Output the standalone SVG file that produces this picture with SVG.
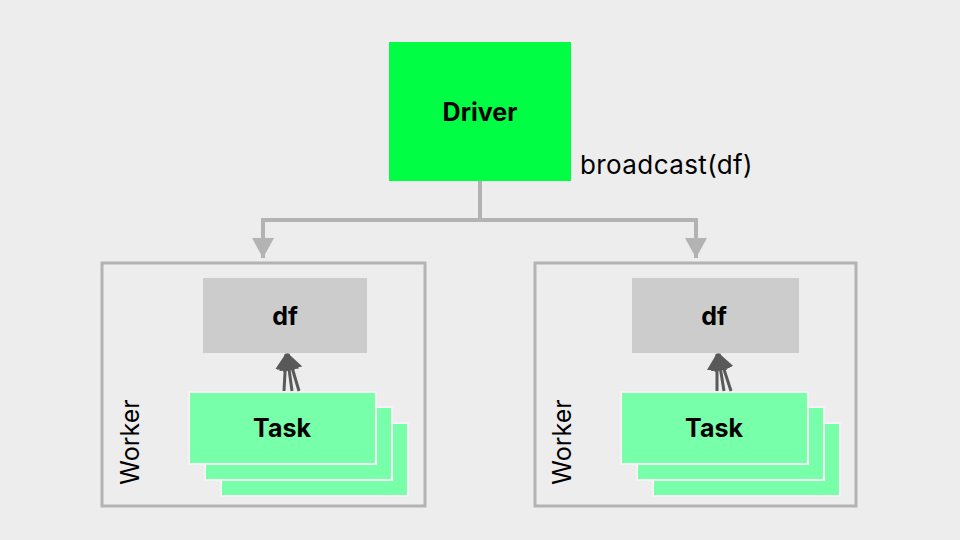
<svg xmlns="http://www.w3.org/2000/svg" width="960" height="540" viewBox="0 0 960 540">
<defs>
<style>
.bg{fill:#ededed}
.driver{fill:#00ff44}
.worker{fill:none;stroke:#b3b3b3;stroke-width:3}
.df{fill:#cccccc}
.task{fill:#77ffaa;stroke:#f4f4f4;stroke-width:2}
.lbl{font-family:Inter,"Liberation Sans",sans-serif;font-size:25px;fill:#000}
.b{font-weight:bold}
.conn{fill:none;stroke:#b3b3b3;stroke-width:4}
.use{fill:none;stroke:#595959;stroke-width:3}
</style>
<marker id="ah2" markerWidth="17" markerHeight="20" refX="16" refY="10" orient="auto" markerUnits="userSpaceOnUse" viewBox="0 0 17 20">
<path d="M0,0 L17,10 L0,20 Z" fill="#595959"/>
</marker>
<marker id="ahg" markerWidth="20" markerHeight="22" refX="20" refY="11" orient="auto" markerUnits="userSpaceOnUse" viewBox="0 0 20 22">
<path d="M0,0 L20,11 L0,22 Z" fill="#b3b3b3"/>
</marker>
</defs>
<rect class="bg" x="0" y="0" width="960" height="540"/>

<g id="driver">
<rect class="driver" x="389" y="42" width="182" height="139"/>
<text class="lbl b" x="480" y="121" text-anchor="middle">Driver</text>
</g>
<text id="broadcast-label" class="lbl" x="580" y="174" style="font-size:26px;letter-spacing:0.4px">broadcast(df)</text>

<g id="worker1">
<rect class="worker" x="102" y="263" width="323" height="243"/>
<text class="lbl" transform="translate(139,442) rotate(-90)" text-anchor="middle">Worker</text>
</g>
<g id="worker2">
<rect class="worker" x="535" y="263" width="321" height="243"/>
<text class="lbl" transform="translate(571,442) rotate(-90)" text-anchor="middle">Worker</text>
</g>

<g id="df1">
<rect class="df" x="203" y="278" width="164" height="75"/>
<text class="lbl b" x="285" y="325" text-anchor="middle">df</text>
</g>
<g id="df2">
<rect class="df" x="632" y="278" width="167" height="75"/>
<text class="lbl b" x="714" y="325" text-anchor="middle">df</text>
</g>

<g id="tasks1">
<rect class="task" x="221" y="423" width="187" height="73"/>
<rect class="task" x="205" y="407" width="187" height="73"/>
<rect class="task" x="189" y="392" width="187" height="72"/>
<text class="lbl b" x="282" y="437" text-anchor="middle">Task</text>
</g>
<g id="tasks2">
<rect class="task" x="653" y="423" width="187" height="73"/>
<rect class="task" x="637" y="407" width="187" height="73"/>
<rect class="task" x="621" y="392" width="187" height="72"/>
<text class="lbl b" x="714" y="437" text-anchor="middle">Task</text>
</g>

<g id="connectors">
<path class="conn" d="M480,181 V220 H263 V258" marker-end="url(#ahg)"/>
<path class="conn" d="M480,220 H696 V258" marker-end="url(#ahg)"/>
<line class="use" x1="284" y1="391" x2="286" y2="354" marker-end="url(#ah2)"/>
<line class="use" x1="292" y1="391" x2="287" y2="354" marker-end="url(#ah2)"/>
<line class="use" x1="299" y1="391" x2="288" y2="354" marker-end="url(#ah2)"/>
<line class="use" x1="717" y1="391" x2="717" y2="354" marker-end="url(#ah2)"/>
<line class="use" x1="724" y1="391" x2="718" y2="354" marker-end="url(#ah2)"/>
<line class="use" x1="731" y1="391" x2="719" y2="354" marker-end="url(#ah2)"/>
</g>
</svg>
